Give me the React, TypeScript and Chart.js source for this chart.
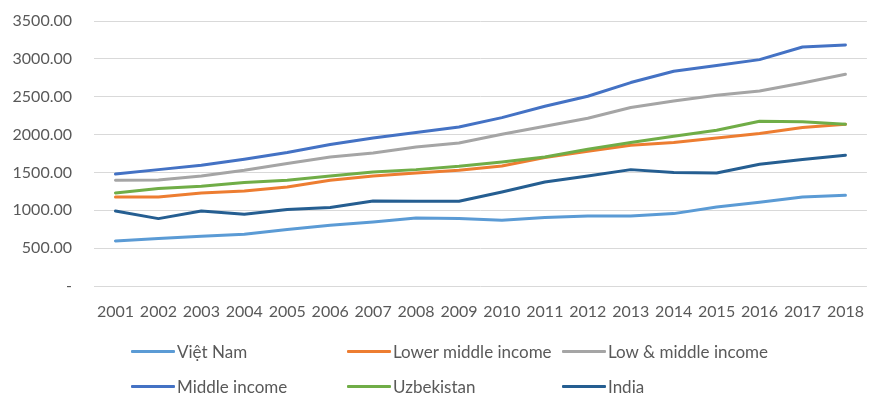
import React, { useEffect, useRef } from "react";
import { Chart, registerables } from "chart.js";

Chart.register(...registerables);

const years = ["2001","2002","2003","2004","2005","2006","2007","2008","2009","2010","2011","2012","2013","2014","2015","2016","2017","2018"];

const vietNam = [594, 626, 656, 683, 745, 802, 845, 898, 890, 868, 904, 925, 925, 956, 1044, 1106, 1176, 1198];
const lowerMiddle = [1176, 1176, 1229, 1255, 1308, 1396, 1453, 1493, 1528, 1585, 1696, 1779, 1859, 1894, 1955, 2013, 2092, 2136];
const lowAndMiddle = [1396, 1400, 1453, 1528, 1617, 1704, 1757, 1836, 1889, 2004, 2110, 2215, 2357, 2444, 2519, 2576, 2682, 2797];
const middleIncome = [1479, 1537, 1594, 1674, 1762, 1868, 1955, 2026, 2101, 2224, 2374, 2506, 2687, 2836, 2911, 2990, 3157, 3184];
const uzbekistan = [1229, 1287, 1317, 1366, 1396, 1453, 1506, 1537, 1581, 1638, 1704, 1806, 1894, 1977, 2057, 2176, 2170, 2136];
const india = [991, 890, 991, 947, 1009, 1036, 1123, 1119, 1119, 1242, 1374, 1453, 1537, 1498, 1493, 1608, 1670, 1727];

const seriesNames = ["Việt Nam", "Lower middle income", "Low & middle income", "Middle income", "Uzbekistan", "India"];
const seriesColors = ["#5B9BD5", "#ED7D31", "#A5A5A5", "#4472C4", "#70AD47", "#255E91"];
const seriesValues = [vietNam, lowerMiddle, lowAndMiddle, middleIncome, uzbekistan, india];

const FONT = "Lato, 'Open Sans', sans-serif";
const TEXT = "#595959";

// legend layout: [left x of swatch, top y] per series
const legendPos: [number, number][] = [
  [131, 341], [347, 341], [562, 341],
  [131, 376], [347, 376], [562, 376],
];

export default function App() {
  const ref = useRef<HTMLCanvasElement | null>(null);

  useEffect(() => {
    document.body.style.margin = "0";
    if (!ref.current) return;
    const chart = new Chart(ref.current, {
      type: "line",
      data: {
        labels: years,
        datasets: seriesValues.map((vals, i) => ({
          label: seriesNames[i],
          data: vals,
          borderColor: seriesColors[i],
          backgroundColor: seriesColors[i],
          borderWidth: 3,
          pointRadius: 0,
          tension: 0,
          borderCapStyle: "round" as const,
          borderJoinStyle: "round" as const,
          order: seriesNames.length - i,
        })),
      },
      options: {
        animation: false,
        responsive: false,
        maintainAspectRatio: false,
        layout: { padding: { top: 21, right: 0, bottom: 0, left: 0 } },
        plugins: {
          legend: { display: false },
          tooltip: { enabled: false },
        },
        scales: {
          x: {
            type: "category",
            offset: true,
            grid: { display: false, drawTicks: false },
            border: { display: false },
            ticks: {
              color: TEXT,
              font: { family: FONT, size: 16 },
              padding: 16,
              maxRotation: 0,
              autoSkip: false,
            },
            afterFit: (scale: any) => {
              scale.height = 108;
            },
          },
          y: {
            min: 0,
            max: 3500,
            grid: { color: "#D9D9D9", lineWidth: 1, drawTicks: false },
            border: { display: false },
            ticks: {
              stepSize: 500,
              color: TEXT,
              font: { family: FONT, size: 16 },
              padding: 22,
              callback: (v: any) => (Number(v) === 0 ? "-" : Number(v).toFixed(2)),
            },
            afterFit: (scale: any) => {
              scale.width = 94;
              scale.paddingTop = 10;
              scale.paddingBottom = 10;
            },
          },
        },
      },
    });
    return () => chart.destroy();
  }, []);

  return (
    <div style={{ position: "relative", width: 880, height: 394, background: "#fff", overflow: "hidden" }}>
      <canvas ref={ref} width={880} height={394} style={{ display: "block" }} />
      {seriesNames.map((name, i) => (
        <div
          key={name}
          style={{
            position: "absolute",
            left: legendPos[i][0],
            top: legendPos[i][1],
            height: 20,
            display: "flex",
            alignItems: "center",
            fontFamily: FONT,
            fontSize: 17,
            color: TEXT,
            whiteSpace: "nowrap",
          }}
        >
          <span style={{ display: "inline-block", width: 44, height: 3, background: seriesColors[i], marginRight: 2, borderRadius: 1 }} />
          <span>{name}</span>
        </div>
      ))}
    </div>
  );
}
